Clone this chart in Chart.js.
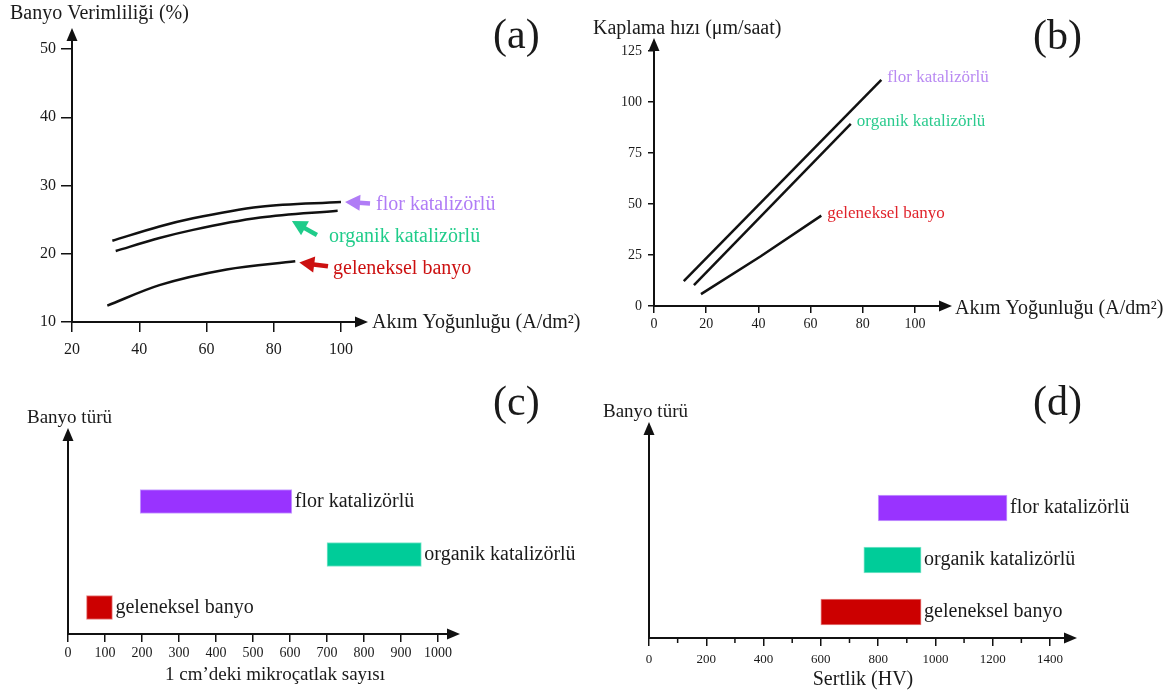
<!DOCTYPE html>
<html>
<head>
<meta charset="utf-8">
<script src="https://cdn.jsdelivr.net/npm/chart.js@4.4.0/dist/chart.umd.min.js"></script>
<style>
  html, body { margin: 0; padding: 0; background: #fff; }
  body { width: 1176px; height: 696px; position: relative; overflow: hidden; }
  canvas { position: absolute; }
</style>
</head>
<body>
<canvas id="chartA" width="590" height="370" style="left:0;top:0"></canvas>
<canvas id="chartB" width="586" height="370" style="left:590px;top:0"></canvas>
<canvas id="chartC" width="590" height="326" style="left:0;top:370px"></canvas>
<canvas id="chartD" width="586" height="326" style="left:590px;top:370px"></canvas>
<script>
// bath types, same order everywhere: flor, organik, geleneksel
const bathNames = ['flor katalizörlü', 'organik katalizörlü', 'geleneksel banyo'];

// (a) bath efficiency (%) vs current density (A/dm2)
const effFlorX = [32, 46, 56, 76, 100];
const effFlorY = [21.9, 24.0, 25.2, 26.9, 27.6];
const effOrgX = [33, 46, 56, 76, 99];
const effOrgY = [20.4, 22.3, 23.5, 25.3, 26.3];
const effGelX = [30.5, 46, 66, 86.4];
const effGelY = [12.4, 15.4, 17.7, 18.9];

// (b) plating rate (um/h) vs current density
const rateFlorX = [11.4, 87.1];
const rateFlorY = [12.2, 110.9];
const rateOrgX = [15.3, 75.4];
const rateOrgY = [10.2, 89.3];
const rateGelX = [18, 40.9, 64.1];
const rateGelY = [5.8, 24.4, 44.3];

// (c) microcracks per cm, range per bath
const crackMin = [195, 700, 50];
const crackMax = [605, 955, 120];

// (d) hardness HV, range per bath
const hardMin = [800, 750, 600];
const hardMax = [1250, 950, 950];

const FONT = "'Liberation Serif', 'Times New Roman', serif";
const INK = '#1a1a1a';
const barColors = ['#9933FF', '#00CC99', '#CC0000'];
const barEdges = ['#C9A3FF', '#80E6CC', '#E68080'];

const pts = (xs, ys) => xs.map((x, i) => ({ x: x, y: ys[i] }));

function arrowHead(ctx, x, y, ang, len, half) {
  ctx.save();
  ctx.translate(x, y);
  ctx.rotate(ang);
  ctx.beginPath();
  ctx.moveTo(0, 0);
  ctx.lineTo(-len, -half);
  ctx.lineTo(-len, half);
  ctx.closePath();
  ctx.fill();
  ctx.restore();
}

// axes with arrows, titles, series labels
const panelDeco = {
  id: 'panelDeco',
  afterDraw(chart, args, opts) {
    const ctx = chart.ctx;
    const a = chart.chartArea;
    const xs = chart.scales.x, ys = chart.scales.y;
    ctx.save();
    ctx.strokeStyle = '#111';
    ctx.fillStyle = '#111';
    ctx.lineWidth = 2;
    const xTip = a.right + opts.xExtend;
    const yTip = a.top - opts.yExtend;
    ctx.beginPath();
    ctx.moveTo(a.left, a.bottom);
    ctx.lineTo(xTip - 6, a.bottom);
    ctx.moveTo(a.left, a.bottom + 1);
    ctx.lineTo(a.left, yTip + 6);
    ctx.stroke();
    arrowHead(ctx, xTip, a.bottom, 0, 13, 5.5);
    arrowHead(ctx, a.left, yTip, -Math.PI / 2, 13, 5.5);

    if (opts.minorStep) {
      ctx.lineWidth = 1.5;
      ctx.beginPath();
      for (let v = xs.min + opts.minorStep; v < xs.max; v += opts.minorStep * 2) {
        const px = xs.getPixelForValue(v);
        ctx.moveTo(px, a.bottom);
        ctx.lineTo(px, a.bottom + 5);
      }
      ctx.stroke();
    }

    ctx.textBaseline = 'middle';
    (opts.texts || []).forEach(t => {
      ctx.font = t.size + 'px ' + FONT;
      ctx.fillStyle = INK;
      ctx.textAlign = t.align || 'left';
      ctx.fillText(t.text, t.x, t.y);
    });

    // pointer arrows with labels (panel a)
    (opts.pointers || []).forEach((p, i) => {
      const tx = xs.getPixelForValue(p.x), ty = ys.getPixelForValue(p.y);
      const bx = tx + p.dx, by = ty + p.dy;
      const ang = Math.atan2(ty - by, tx - bx);
      ctx.strokeStyle = p.color;
      ctx.fillStyle = p.color;
      ctx.lineWidth = 4.5;
      ctx.beginPath();
      ctx.moveTo(bx, by);
      ctx.lineTo(tx - Math.cos(ang) * 10, ty - Math.sin(ang) * 10);
      ctx.stroke();
      arrowHead(ctx, tx, ty, ang, 15, 8);
      ctx.font = '20px ' + FONT;
      ctx.textAlign = 'left';
      ctx.fillText(bathNames[i], bx + p.tdx, by + p.tdy);
    });

    // labels at the end of lines (panel b)
    if (opts.endLabels) {
      chart.data.datasets.forEach((ds, i) => {
        const meta = chart.getDatasetMeta(i);
        const last = meta.data[meta.data.length - 1];
        ctx.font = opts.endLabels.size + 'px ' + FONT;
        ctx.fillStyle = opts.endLabels.colors[i];
        ctx.textAlign = 'left';
        ctx.fillText(ds.label, last.x + opts.endLabels.dx, last.y + opts.endLabels.dy);
      });
    }

    // labels right of the bars (panels c, d)
    if (opts.barLabels) {
      const meta = chart.getDatasetMeta(0);
      meta.data.forEach((bar, i) => {
        ctx.font = '20px ' + FONT;
        ctx.fillStyle = INK;
        ctx.textAlign = 'left';
        ctx.fillText(chart.data.labels[i], Math.max(bar.x, bar.base) + 3, bar.y);
      });
    }
    ctx.restore();
  }
};

function xAxis(min, max, step, size, tickLen, pad, height) {
  return {
    type: 'linear', min: min, max: max,
    ticks: { stepSize: step, autoSkip: false, maxRotation: 0, color: INK, padding: pad,
             font: { family: FONT, size: size },
             callback: v => String(v) },
    grid: { drawOnChartArea: false, drawTicks: true, tickLength: tickLen, color: '#111', lineWidth: 1.5 },
    border: { display: false },
    afterFit: s => { s.height = height; }
  };
}

const common = {
  responsive: false,
  animation: false,
  events: [],
  plugins: { legend: { display: false }, tooltip: { enabled: false }, title: { display: false } }
};

function lineSet(label, data, smooth) {
  return { label: label, data: data, borderColor: '#111', borderWidth: 2.5, pointRadius: 0,
           fill: false, tension: smooth ? 0.4 : 0,
           cubicInterpolationMode: smooth ? 'monotone' : 'default' };
}

// (a)
new Chart(document.getElementById('chartA'), {
  type: 'line',
  data: { datasets: [
    lineSet(bathNames[0], pts(effFlorX, effFlorY), true),
    lineSet(bathNames[1], pts(effOrgX, effOrgY), true),
    lineSet(bathNames[2], pts(effGelX, effGelY), true)
  ] },
  options: Object.assign({}, common, {
    layout: { padding: { left: 0, top: 49, right: 249, bottom: 0 } },
    scales: {
      x: xAxis(20, 100, 20, 16, 10, 8, 48),
      y: {
        min: 10, max: 50,
        ticks: { stepSize: 10, color: INK, padding: 5, font: { family: FONT, size: 16 } },
        grid: { drawOnChartArea: false, tickLength: 11, color: '#111', lineWidth: 1.5 },
        border: { display: false },
        afterFit: s => { s.width = 72; }
      }
    },
    plugins: Object.assign({}, common.plugins, {
      panelDeco: {
        xExtend: 27, yExtend: 21,
        texts: [
          { text: 'Banyo Verimliliği (%)', x: 10, y: 14, size: 20 },
          { text: 'Akım Yoğunluğu (A/dm²)', x: 372, y: 323, size: 20 },
          { text: '(a)', x: 493, y: 37, size: 42 }
        ],
        pointers: [
          { x: 101.2, y: 27.6, dx: 25, dy: 1.6, tdx: 6, tdy: 1, color: '#B07CF6' },
          { x: 85.4, y: 24.8, dx: 25, dy: 14, tdx: 12, tdy: 2, color: '#1FCC8A' },
          { x: 87.6, y: 18.7, dx: 28.7, dy: 3.7, tdx: 5, tdy: 2, color: '#CC1010' }
        ]
      }
    })
  }),
  plugins: [panelDeco]
});

// (b)
new Chart(document.getElementById('chartB'), {
  type: 'line',
  data: { datasets: [
    lineSet(bathNames[0], pts(rateFlorX, rateFlorY), false),
    lineSet(bathNames[1], pts(rateOrgX, rateOrgY), false),
    lineSet(bathNames[2], pts(rateGelX, rateGelY), false)
  ] },
  options: Object.assign({}, common, {
    layout: { padding: { left: 0, top: 51, right: 261, bottom: 0 } },
    scales: {
      x: xAxis(0, 100, 20, 14, 7, 3, 64),
      y: {
        min: 0, max: 125,
        ticks: { stepSize: 25, color: INK, padding: 6, font: { family: FONT, size: 14 } },
        grid: { drawOnChartArea: false, tickLength: 6, color: '#111', lineWidth: 1.5 },
        border: { display: false },
        afterFit: s => { s.width = 64; }
      }
    },
    plugins: Object.assign({}, common.plugins, {
      panelDeco: {
        xExtend: 37, yExtend: 13,
        texts: [
          { text: 'Kaplama hızı (μm/saat)', x: 3, y: 29, size: 20 },
          { text: 'Akım Yoğunluğu (A/dm²)', x: 365, y: 309, size: 20 },
          { text: '(b)', x: 443, y: 38, size: 42 }
        ],
        endLabels: { dx: 6, dy: -2, size: 17, colors: ['#B98AF2', '#2BCB8E', '#E0242C'] }
      }
    })
  }),
  plugins: [panelDeco]
});

function barPanel(id, mins, maxs, xCfg, yWidth, pad, thickness, deco) {
  return new Chart(document.getElementById(id), {
    type: 'bar',
    data: {
      labels: bathNames,
      datasets: [{
        data: mins.map((m, i) => [m, maxs[i]]),
        backgroundColor: barColors,
        borderColor: barEdges,
        borderWidth: 1,
        borderSkipped: false,
        barThickness: thickness
      }]
    },
    options: Object.assign({}, common, {
      indexAxis: 'y',
      layout: { padding: pad },
      scales: {
        x: xCfg,
        y: {
          ticks: { display: false },
          grid: { display: false },
          border: { display: false },
          afterFit: s => { s.width = yWidth; }
        }
      },
      plugins: Object.assign({}, common.plugins, { panelDeco: deco })
    }),
    plugins: [panelDeco]
  });
}

// (c)
barPanel('chartC', crackMin, crackMax,
  xAxis(0, 1000, 100, 14, 8, 3, 62),
  68, { left: 0, top: 105, right: 152, bottom: 0 }, 24,
  {
    xExtend: 22, yExtend: 47, barLabels: true,
    texts: [
      { text: 'Banyo türü', x: 27, y: 48, size: 19 },
      { text: '1 cm’deki mikroçatlak sayısı', x: 275, y: 305, size: 19, align: 'center' },
      { text: '(c)', x: 493, y: 34, size: 42 }
    ]
  });

// (d)
barPanel('chartD', hardMin, hardMax,
  xAxis(0, 1400, 200, 13, 8, 6, 58),
  59, { left: 0, top: 112, right: 126, bottom: 0 }, 26,
  {
    xExtend: 27, yExtend: 60, barLabels: true, minorStep: 100,
    texts: [
      { text: 'Banyo türü', x: 13, y: 42, size: 19 },
      { text: 'Sertlik (HV)', x: 273, y: 310, size: 20, align: 'center' },
      { text: '(d)', x: 443, y: 34, size: 42 }
    ]
  });
</script>
</body>
</html>
